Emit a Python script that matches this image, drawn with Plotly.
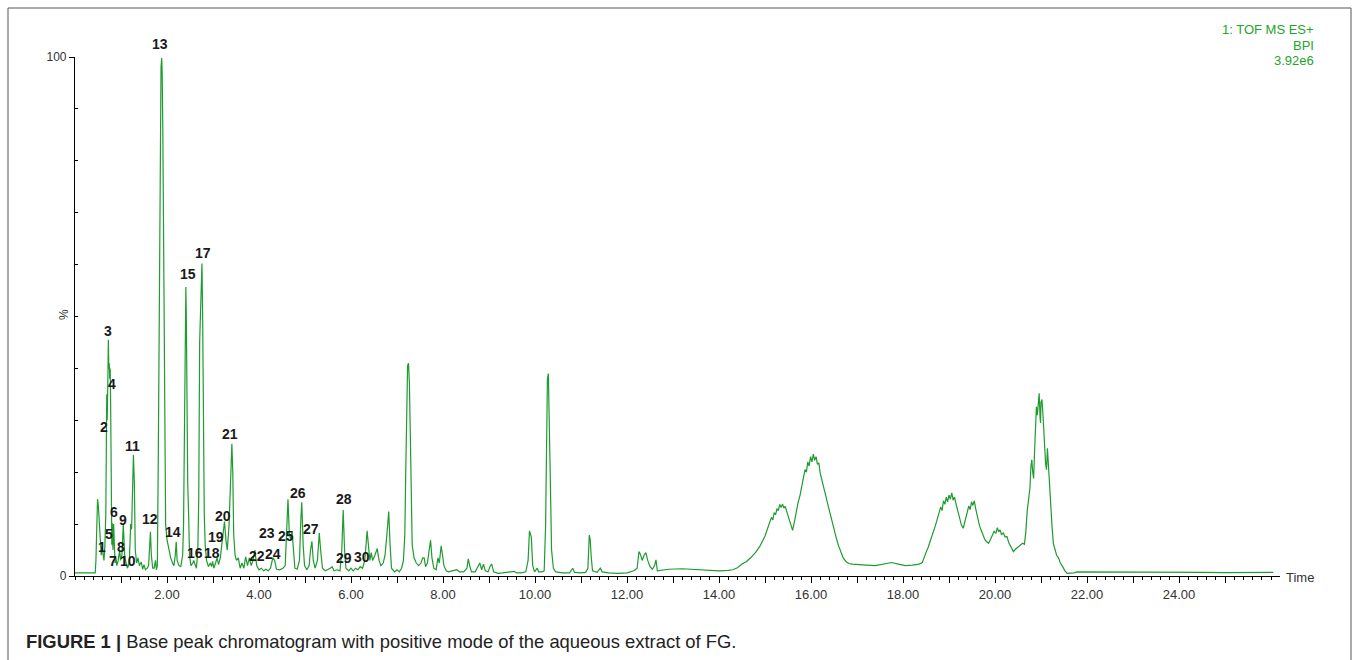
import plotly.graph_objects as go

# ---------------- data ----------------
# retention time (min) and relative intensity (%) — segment 0–2.6 min
t_early = [0.00, 0.44, 0.455, 0.47, 0.48, 0.49, 0.51, 0.53, 0.55, 0.57, 0.59, 0.61, 0.63, 0.65, 0.67,
           0.69, 0.70, 0.715, 0.725, 0.735, 0.745, 0.755, 0.765, 0.775, 0.785, 0.79, 0.80, 0.81, 0.825,
           0.84, 0.855, 0.87, 0.89, 0.91, 0.94, 0.97, 0.99, 1.02, 1.05, 1.08, 1.11, 1.14, 1.18, 1.21,
           1.23, 1.25, 1.27, 1.29, 1.31, 1.34, 1.37, 1.40, 1.44, 1.47, 1.50, 1.53, 1.57, 1.60, 1.62,
           1.64, 1.66, 1.69, 1.72, 1.75, 1.77, 1.79, 1.81, 1.83, 1.85, 1.87, 1.885, 1.895, 1.91, 1.93,
           1.95, 1.97, 2.00, 2.04, 2.08, 2.12, 2.15, 2.18, 2.20, 2.22, 2.26, 2.30, 2.34, 2.36, 2.38,
           2.40, 2.41, 2.42, 2.435, 2.45, 2.47, 2.49, 2.52, 2.56, 2.58]
i_early = [0.6, 0.6, 3.0, 10.0, 13.5, 14.8, 13.2, 9.0, 5.0, 4.0, 5.6, 3.5, 3.0, 6.0, 12.0,
           35.0, 30.0, 38.0, 45.5, 40.0, 41.0, 38.0, 40.0, 33.0, 18.0, 9.0, 6.0, 10.2, 5.0,
           10.0, 4.0, 2.5, 3.5, 2.0, 3.0, 5.0, 3.0, 4.0, 10.0, 4.0, 2.5, 1.5, 2.5, 10.0,
           9.0, 15.0, 23.3, 18.0, 5.0, 2.5, 3.5, 2.0, 2.7, 1.3, 2.2, 1.2, 1.5, 2.0, 5.0,
           8.5, 4.0, 1.5, 1.5, 3.0, 1.2, 2.0, 22.0, 50.0, 80.0, 98.0, 99.8, 97.0, 85.0, 55.0,
           25.0, 10.0, 7.0, 5.0, 3.5, 2.5, 2.0, 4.0, 6.6, 3.0, 2.0, 1.8, 4.0, 10.0, 35.0,
           52.0, 55.7, 50.0, 22.0, 18.0, 12.0, 4.0, 2.0, 2.5, 3.0]

# segment 2.6–7.5 min
t_mid = [2.61, 2.64, 2.67, 2.69, 2.71, 2.725, 2.745, 2.76, 2.775, 2.79, 2.81, 2.83, 2.86, 2.90, 2.94,
         2.97, 2.99, 3.02, 3.06, 3.09, 3.12, 3.16, 3.19, 3.22, 3.25, 3.28, 3.31, 3.35, 3.37, 3.385,
         3.41, 3.43, 3.45, 3.48, 3.51, 3.55, 3.59, 3.63, 3.67, 3.71, 3.75, 3.79, 3.83, 3.87, 3.91,
         3.95, 4.00, 4.05, 4.10, 4.15, 4.20, 4.25, 4.30, 4.34, 4.38, 4.45, 4.52, 4.57, 4.60, 4.63,
         4.66, 4.69, 4.72, 4.75, 4.78, 4.83, 4.88, 4.91, 4.93, 4.96, 4.99, 5.04, 5.09, 5.12, 5.15,
         5.18, 5.22, 5.27, 5.31, 5.34, 5.38, 5.44, 5.50, 5.55, 5.59, 5.63, 5.70, 5.76, 5.80, 5.83,
         5.86, 5.89, 5.95, 6.00, 6.05, 6.10, 6.15, 6.20, 6.25, 6.30, 6.35, 6.38, 6.41, 6.44, 6.47,
         6.52, 6.57, 6.61, 6.65, 6.70, 6.74, 6.78, 6.82, 6.85, 6.88, 6.95, 7.00, 7.05, 7.10, 7.14,
         7.17, 7.19, 7.21, 7.23, 7.25, 7.27, 7.29, 7.31, 7.33, 7.37, 7.42, 7.47]
i_mid = [2.0, 1.5, 5.0, 15.0, 45.0, 50.0, 58.0, 60.2, 50.0, 25.0, 12.0, 6.0, 3.0, 1.8, 2.5,
         1.8, 2.8, 1.5, 2.5, 3.5, 2.2, 3.5, 6.0, 8.0, 10.5, 7.0, 5.0, 10.0, 17.0, 17.5,
         25.5, 20.0, 8.0, 4.0, 3.0, 3.5, 1.5, 2.5, 1.5, 3.7, 2.0, 3.5, 2.0, 3.0, 5.0,
         2.0, 1.2, 1.5, 1.0, 1.3, 1.0, 1.5, 3.5, 3.0, 1.3, 1.2, 1.5, 2.0, 8.0, 14.8,
         8.0, 7.0, 8.5, 4.0, 1.5, 1.3, 3.0, 11.0, 14.2, 6.0, 2.0, 1.2, 2.0, 5.0, 6.7,
         3.0, 1.5, 3.0, 8.3, 5.0, 1.5, 1.0, 1.2, 1.5, 1.8, 1.0, 1.2, 1.0, 5.0, 12.7,
         5.0, 1.5, 1.0, 1.5, 1.0, 1.5, 1.2, 1.8, 1.5, 3.0, 8.7, 5.0, 3.0, 4.5, 3.0,
         4.0, 5.3, 3.0, 2.0, 2.5, 4.0, 8.0, 12.4, 6.0, 1.5, 0.8, 1.2, 0.8, 1.5, 3.0,
         8.0, 20.0, 35.0, 40.5, 41.0, 37.0, 27.0, 12.0, 6.0, 3.5, 2.5, 2.0]

# segment 7.5–14.3 min
t_late = [7.52, 7.56, 7.59, 7.62, 7.66, 7.70, 7.73, 7.76, 7.80, 7.85, 7.89, 7.92, 7.96, 7.99, 8.02,
          8.07, 8.12, 8.20, 8.30, 8.36, 8.45, 8.52, 8.55, 8.58, 8.62, 8.70, 8.76, 8.80, 8.84, 8.88,
          8.92, 8.98, 9.03, 9.06, 9.10, 9.20, 9.30, 9.45, 9.55, 9.60, 9.70, 9.80, 9.85, 9.88, 9.92,
          9.95, 9.99, 10.05, 10.08, 10.15, 10.20, 10.23, 10.25, 10.27, 10.29, 10.31, 10.33, 10.36,
          10.40, 10.45, 10.60, 10.75, 10.82, 10.86, 11.00, 11.10, 11.15, 11.18, 11.20, 11.22, 11.25,
          11.35, 11.42, 11.46, 11.60, 11.80, 12.00, 12.15, 12.22, 12.26, 12.29, 12.33, 12.37, 12.41,
          12.45, 12.50, 12.55, 12.60, 12.63, 12.66, 12.75, 12.90, 13.20, 13.50, 13.80, 14.00, 14.20]
i_late = [2.5, 3.5, 3.5, 1.8, 2.5, 5.0, 6.9, 3.5, 1.5, 1.2, 3.5, 2.5, 5.8, 4.0, 2.0,
          1.0, 0.8, 1.0, 1.2, 0.8, 0.8, 1.5, 3.3, 2.0, 0.8, 0.8, 2.0, 2.5, 1.2, 2.3,
          1.0, 0.8, 2.0, 2.3, 0.8, 0.5, 0.6, 0.7, 0.9, 0.6, 0.6, 0.8, 3.0, 8.7, 7.5,
          2.0, 0.8, 1.5, 0.8, 0.8, 1.0, 9.5, 29.0, 38.0, 39.0, 32.0, 20.0, 5.0,
          1.5, 0.8, 0.6, 0.6, 1.5, 0.7, 0.6, 0.7, 1.5, 7.9, 7.0, 4.0, 1.0,
          0.7, 1.5, 0.8, 0.6, 0.5, 0.6, 1.0, 1.5, 4.7, 4.2, 3.0, 4.0, 4.5,
          3.0, 1.8, 1.3, 2.0, 3.1, 1.0, 1.1, 1.3, 1.4, 1.3, 1.1, 1.0, 1.1]

# segment 14.3–26.05 min (broad humps)
t_humps = [14.30, 14.40, 14.50, 14.60, 14.70, 14.80, 14.88, 14.95, 15.00, 15.05, 15.10, 15.14, 15.17,
           15.20, 15.23, 15.26, 15.29, 15.32, 15.35, 15.38, 15.41, 15.44, 15.48, 15.52, 15.56, 15.60,
           15.64, 15.68, 15.72, 15.76, 15.80, 15.84, 15.87, 15.90, 15.93, 15.96, 15.99, 16.02, 16.05,
           16.08, 16.11, 16.14, 16.17, 16.20, 16.24, 16.28, 16.32, 16.36, 16.40, 16.45, 16.50, 16.55,
           16.60, 16.65, 16.70, 16.76, 16.82, 16.90, 17.00, 17.20, 17.40, 17.60, 17.75, 17.90, 18.05,
           18.20, 18.35, 18.42, 18.45, 18.50, 18.55, 18.60, 18.65, 18.70, 18.74, 18.78, 18.82, 18.85,
           18.88, 18.91, 18.94, 18.97, 19.00, 19.03, 19.06, 19.09, 19.12, 19.15, 19.19, 19.23, 19.27,
           19.31, 19.35, 19.39, 19.43, 19.46, 19.49, 19.52, 19.55, 19.58, 19.62, 19.66, 19.70, 19.74,
           19.78, 19.82, 19.86, 19.90, 19.94, 19.98, 20.02, 20.05, 20.08, 20.11, 20.14, 20.18, 20.22,
           20.26, 20.30, 20.35, 20.40, 20.45, 20.50, 20.55, 20.60, 20.64, 20.67, 20.70, 20.73, 20.76,
           20.78, 20.80, 20.82, 20.84, 20.86, 20.88, 20.90, 20.92, 20.94, 20.96, 20.98, 20.99, 21.00,
           21.02, 21.04, 21.06, 21.08, 21.10, 21.12, 21.14, 21.16, 21.18, 21.21, 21.24, 21.27, 21.30,
           21.34, 21.38, 21.42, 21.47, 21.52, 21.57, 21.65, 21.72, 21.78, 22.00, 22.50, 22.80, 23.00,
           23.50, 24.00, 24.50, 25.00, 25.50, 26.05]
i_humps = [1.2, 1.6, 2.3, 2.8, 3.6, 4.6, 5.6, 6.8, 7.7, 9.0, 10.2, 11.3, 10.8,
           12.2, 11.8, 13.0, 12.6, 13.8, 13.2, 13.9, 13.1, 13.4, 12.2, 11.0, 9.8, 8.8,
           10.5, 12.5, 14.2, 15.5, 17.5, 19.0, 20.5, 20.0, 22.0, 21.2, 23.0, 22.0, 23.5,
           22.3, 23.0, 21.5, 21.8, 19.8, 18.5, 16.8, 15.5, 14.0, 12.5, 10.8, 9.0, 7.3,
           5.8, 4.5, 3.5, 2.8, 2.4, 2.3, 2.2, 2.1, 2.0, 2.4, 2.6, 2.3, 2.0,
           2.1, 2.3, 2.6, 3.5, 4.5, 5.6, 6.8, 8.0, 9.6, 10.8, 12.0, 13.3, 12.6,
           14.5, 13.8, 15.2, 14.3, 15.6, 14.8, 16.0, 14.6, 15.2, 14.0, 12.5, 11.0, 9.8,
           9.2, 10.5, 12.2, 13.5, 12.8, 14.3, 13.6, 14.5, 13.0, 11.3, 9.8, 8.8, 8.0,
           7.0, 6.6, 6.3, 7.0, 7.8, 8.6, 8.2, 9.3, 8.5, 8.9, 8.0, 8.3, 7.5,
           7.6, 6.4, 5.5, 4.7, 5.2, 5.6, 6.0, 6.3, 6.1, 8.5, 12.5, 15.5, 17.0,
           21.0, 22.4, 20.0, 18.8, 24.0, 28.5, 32.6, 31.0, 34.5, 35.2, 30.5, 29.5, 33.5,
           34.0, 31.5, 29.0, 25.0, 21.7, 20.5, 24.6, 21.0, 18.5, 14.0, 9.5, 6.2, 5.0,
           4.0, 3.5, 2.5, 1.8, 1.0, 0.5, 0.5, 0.6, 0.8, 0.8, 0.8, 0.75, 0.8,
           0.7, 0.7, 0.7, 0.65, 0.7, 0.7]

time_min = t_early + t_mid + t_late + t_humps
intensity_pct = i_early + i_mid + i_late + i_humps

# peak numbers and where their labels sit (time, %)
peak_ids = [str(k) for k in range(1, 31)]
peak_label_t = [0.59, 0.64, 0.71, 0.80, 0.74, 0.85, 0.83, 0.99, 1.04, 1.16, 1.25, 1.62, 1.85, 2.14, 2.46,
                2.61, 2.78, 2.97, 3.06, 3.22, 3.37, 3.95, 4.18, 4.30, 4.59, 4.84, 5.12, 5.85, 5.85, 6.23]
peak_label_pct = [5.5, 28.7, 47.3, 37.0, 8.0, 12.3, 2.8, 5.5, 10.7, 2.8, 25.1, 10.9, 102.5, 8.4, 58.2,
                  4.4, 62.2, 4.4, 7.6, 11.6, 27.3, 3.9, 8.3, 4.2, 7.7, 15.9, 9.0, 14.8, 3.4, 3.6]

x_major_ticks = list(range(1, 26))
x_major_text = ["%.2f" % v if v % 2 == 0 else "" for v in x_major_ticks]
y_ticks = [0, 100]
y_tick_text = ["0", "100"]
y_minor_ticks = [10, 20, 30, 40, 50, 60, 70, 80, 90]

instrument_lines = ["1: TOF MS ES+", "BPI", "3.92e6"]
caption_bold = "FIGURE 1 |"
caption_text = "Base peak chromatogram with positive mode of the aqueous extract of FG."

# ---------------- layout geometry (pixels) ----------------
W, H = 1355, 660
L, R, T, B = 75, 1280, 57, 576
PW, PH = R - L, B - T
Y_MAX = 100.0


def px(x):
    return (x - L) / PW


def py(y):
    return (B - y) / PH


GREEN = "#1f9b30"
TXT = "#333333"

fig = go.Figure()
fig.add_trace(go.Scatter(x=time_min, y=intensity_pct, mode="lines",
                         line=dict(color=GREEN, width=1.2), hoverinfo="x+y",
                         showlegend=False))

annotations = []
for lab, tx, ty in zip(peak_ids, peak_label_t, peak_label_pct):
    annotations.append(dict(x=tx, y=ty / Y_MAX, xref="x", yref="paper", text="<b>%s</b>" % lab,
                            showarrow=False, xanchor="center", yanchor="middle",
                            font=dict(family="Arial", size=14, color="#1a1a1a")))

for k, line in enumerate(instrument_lines):
    annotations.append(dict(x=px(1316), y=py(30 + 15 * k), xref="paper", yref="paper",
                            text=line, showarrow=False, xanchor="right", yanchor="middle",
                            font=dict(family="Arial", size=13, color="#22a52a")))

annotations.append(dict(x=px(1284), y=py(577), xref="paper", yref="paper", text="Time",
                        showarrow=False, xanchor="left", yanchor="middle",
                        font=dict(family="Arial", size=13, color=TXT)))
annotations.append(dict(x=px(64), y=py(315), xref="paper", yref="paper", text="%",
                        showarrow=False, xanchor="center", yanchor="middle", textangle=-90,
                        font=dict(family="Arial", size=12, color=TXT)))
annotations.append(dict(x=px(24), y=py(641), xref="paper", yref="paper",
                        text="<b>%s</b> %s" % (caption_bold, caption_text),
                        showarrow=False, xanchor="left", yanchor="middle",
                        font=dict(family="Arial", size=18.4, color="#222222")))

fig.update_layout(
    width=W, height=H,
    margin=dict(l=L, r=W - R, t=T, b=H - B),
    paper_bgcolor="white", plot_bgcolor="white",
    annotations=annotations,
    shapes=[dict(type="rect", xref="paper", yref="paper",
                 x0=px(8), x1=px(1351), y0=py(662), y1=py(8),
                 line=dict(color="#555555", width=1), layer="below")],
    xaxis=dict(range=[0, PW / 46.0], showgrid=False, zeroline=False,
               showline=True, linecolor="black", linewidth=1.2,
               tickmode="array", tickvals=x_major_ticks, ticktext=x_major_text,
               ticks="outside", ticklen=6, tickcolor="black", tickwidth=1,
               minor=dict(dtick=0.2, tick0=0, ticks="outside", ticklen=3, tickcolor="black",
                          showgrid=False),
               tickfont=dict(family="Arial", size=13, color=TXT)),
    yaxis=dict(range=[0, Y_MAX], showgrid=False, zeroline=False,
               showline=True, linecolor="black", linewidth=1.2,
               tickmode="array", tickvals=y_ticks, ticktext=y_tick_text,
               ticks="outside", ticklen=5, tickcolor="black",
               minor=dict(tickvals=y_minor_ticks, ticks="inside", ticklen=3, tickcolor="black",
                          showgrid=False),
               tickfont=dict(family="Arial", size=12, color=TXT)),
)

fig.write_html("out.html")
